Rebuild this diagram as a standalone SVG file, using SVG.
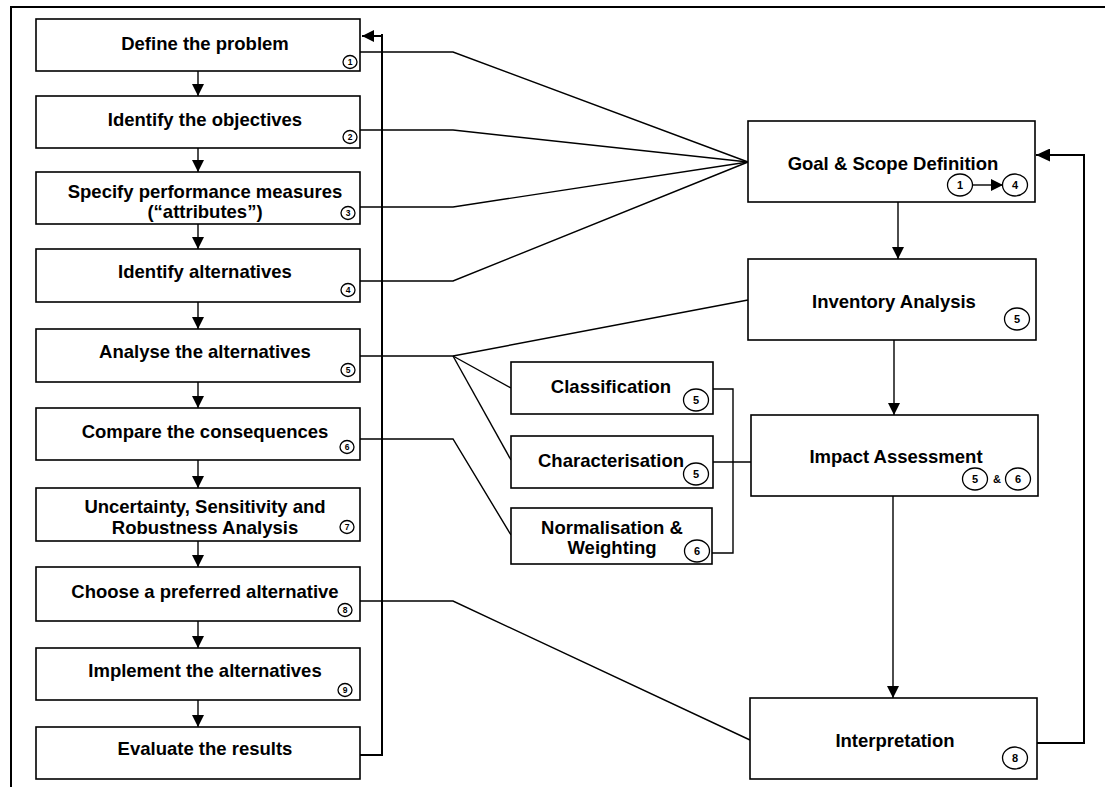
<svg xmlns="http://www.w3.org/2000/svg" width="1105" height="787" viewBox="0 0 1105 787">
  <defs>
    <style>
      .box { fill: #fff; stroke: #000; stroke-width: 1.6; }
      .lbl { font-family: "Liberation Sans", Arial, sans-serif; font-weight: bold; font-size: 18.5px; fill: #000; text-anchor: middle; }
      .num { fill: #fff; stroke: #000; stroke-width: 1.3; }
      .numS { font-family: "Liberation Sans", Arial, sans-serif; font-weight: bold; font-size: 8.5px; fill: #000; text-anchor: middle; }
      .numL { font-family: "Liberation Sans", Arial, sans-serif; font-weight: bold; font-size: 11px; fill: #000; text-anchor: middle; }
      .wire { fill: none; stroke: #000; stroke-width: 1.4; }
      .thick { fill: none; stroke: #000; stroke-width: 2; }
    </style>
    <marker id="arrow" markerUnits="userSpaceOnUse" markerWidth="12" markerHeight="12" viewBox="0 0 12 12" refX="12" refY="6" orient="auto">
      <path d="M0,0 L12,6 L0,12 Z" fill="#000"/>
    </marker>
    <marker id="arrowBig" markerUnits="userSpaceOnUse" markerWidth="14" markerHeight="13" viewBox="0 0 14 13" refX="14" refY="6.5" orient="auto">
      <path d="M0,0 L14,6.5 L0,13 Z" fill="#000"/>
    </marker>
  </defs>

  <rect x="0" y="0" width="1105" height="787" fill="#fff"/>

  <!-- outer frame (top and left edges) -->
  <path class="thick" d="M11,787 V7 H1105"/>

  <!-- connectors -->
  <g id="connectors">
    <!-- decision-analysis chain -->
    <line class="wire" x1="198" y1="71" x2="198" y2="96" marker-end="url(#arrow)"/>
    <line class="wire" x1="198" y1="148" x2="198" y2="172" marker-end="url(#arrow)"/>
    <line class="wire" x1="198" y1="224" x2="198" y2="249" marker-end="url(#arrow)"/>
    <line class="wire" x1="198" y1="302" x2="198" y2="329" marker-end="url(#arrow)"/>
    <line class="wire" x1="198" y1="382" x2="198" y2="408" marker-end="url(#arrow)"/>
    <line class="wire" x1="198" y1="460" x2="198" y2="488" marker-end="url(#arrow)"/>
    <line class="wire" x1="198" y1="541" x2="198" y2="567" marker-end="url(#arrow)"/>
    <line class="wire" x1="198" y1="621" x2="198" y2="648" marker-end="url(#arrow)"/>
    <line class="wire" x1="198" y1="700" x2="198" y2="727" marker-end="url(#arrow)"/>

    <!-- feedback loop: evaluate -> define -->
    <path class="thick" d="M360,755 H382 V34"/>
    <line class="thick" x1="382" y1="36" x2="362" y2="36" marker-end="url(#arrow)"/>

    <!-- steps 1-4 to goal & scope -->
    <polyline class="wire" points="360,52 453,52 748,162"/>
    <polyline class="wire" points="360,130 453,130 748,162"/>
    <polyline class="wire" points="360,207 453,207 748,162"/>
    <polyline class="wire" points="360,281 453,281 748,162"/>

    <!-- step 5 fan-out -->
    <polyline class="wire" points="360,356 453,356 748,300"/>
    <line class="wire" x1="453" y1="356" x2="511" y2="388"/>
    <line class="wire" x1="453" y1="356" x2="511" y2="460"/>

    <!-- step 6 to normalisation -->
    <polyline class="wire" points="360,439 453,439 511,535"/>

    <!-- step 8 to interpretation -->
    <polyline class="wire" points="360,601 453,601 750,740"/>

    <!-- impact-assessment elements -->
    <polyline class="wire" points="713,389 733,389 733,553 712,553"/>
    <line class="wire" x1="713" y1="462" x2="751" y2="462"/>

    <!-- LCA phases -->
    <line class="wire" x1="898" y1="202" x2="898" y2="259" marker-end="url(#arrow)"/>
    <line class="wire" x1="894" y1="340" x2="894" y2="415" marker-end="url(#arrow)"/>
    <line class="wire" x1="893" y1="496" x2="893" y2="698" marker-end="url(#arrow)"/>

    <!-- feedback loop: interpretation -> goal & scope -->
    <path class="thick" d="M1037,743 H1084 V155"/>
    <line class="thick" x1="1085" y1="155" x2="1036" y2="155" marker-end="url(#arrowBig)"/>
  </g>

  <!-- decision-analysis steps -->
  <g id="step1">
    <rect class="box" x="36" y="19" width="324" height="52"/>
    <text class="lbl" x="205" y="50">Define the problem</text>
    <ellipse class="num" cx="350" cy="62" rx="7" ry="6.5"/>
    <text class="numS" x="350" y="65">1</text>
  </g>
  <g id="step2">
    <rect class="box" x="36" y="96" width="324" height="52"/>
    <text class="lbl" x="205" y="126">Identify the objectives</text>
    <ellipse class="num" cx="350" cy="137" rx="7" ry="6.5"/>
    <text class="numS" x="350" y="140">2</text>
  </g>
  <g id="step3">
    <rect class="box" x="36" y="172" width="324" height="52"/>
    <text class="lbl" x="205" y="198">Specify performance measures</text>
    <text class="lbl" x="205" y="218">(“attributes”)</text>
    <ellipse class="num" cx="348" cy="213" rx="7" ry="6.5"/>
    <text class="numS" x="348" y="216">3</text>
  </g>
  <g id="step4">
    <rect class="box" x="36" y="249" width="324" height="53"/>
    <text class="lbl" x="205" y="278">Identify alternatives</text>
    <ellipse class="num" cx="348" cy="290" rx="7" ry="6.5"/>
    <text class="numS" x="348" y="293">4</text>
  </g>
  <g id="step5">
    <rect class="box" x="36" y="329" width="324" height="53"/>
    <text class="lbl" x="205" y="358">Analyse the alternatives</text>
    <ellipse class="num" cx="348" cy="370" rx="7" ry="6.5"/>
    <text class="numS" x="348" y="373">5</text>
  </g>
  <g id="step6">
    <rect class="box" x="36" y="408" width="324" height="52"/>
    <text class="lbl" x="205" y="438">Compare the consequences</text>
    <ellipse class="num" cx="347" cy="447" rx="7" ry="6.5"/>
    <text class="numS" x="347" y="450">6</text>
  </g>
  <g id="step7">
    <rect class="box" x="36" y="488" width="324" height="53"/>
    <text class="lbl" x="205" y="513">Uncertainty, Sensitivity and</text>
    <text class="lbl" x="205" y="534">Robustness Analysis</text>
    <ellipse class="num" cx="347" cy="527" rx="7" ry="6.5"/>
    <text class="numS" x="347" y="530">7</text>
  </g>
  <g id="step8">
    <rect class="box" x="36" y="567" width="324" height="54"/>
    <text class="lbl" x="205" y="598">Choose a preferred alternative</text>
    <ellipse class="num" cx="345" cy="610" rx="7" ry="6.5"/>
    <text class="numS" x="345" y="613">8</text>
  </g>
  <g id="step9">
    <rect class="box" x="36" y="648" width="324" height="52"/>
    <text class="lbl" x="205" y="677">Implement the alternatives</text>
    <ellipse class="num" cx="345" cy="690" rx="7" ry="6.5"/>
    <text class="numS" x="345" y="693">9</text>
  </g>
  <g id="step10">
    <rect class="box" x="36" y="727" width="324" height="52"/>
    <text class="lbl" x="205" y="755">Evaluate the results</text>
  </g>

  <!-- impact-assessment elements -->
  <g id="classification">
    <rect class="box" x="511" y="362" width="202" height="52"/>
    <text class="lbl" x="611" y="393">Classification</text>
    <ellipse class="num" cx="696" cy="400" rx="12.5" ry="11"/>
    <text class="numL" x="696" y="404">5</text>
  </g>
  <g id="characterisation">
    <rect class="box" x="511" y="436" width="202" height="52"/>
    <text class="lbl" x="611" y="467">Characterisation</text>
    <ellipse class="num" cx="696" cy="474" rx="12.5" ry="11"/>
    <text class="numL" x="696" y="478">5</text>
  </g>
  <g id="normalisation">
    <rect class="box" x="511" y="508" width="201" height="56"/>
    <text class="lbl" x="612" y="534">Normalisation &amp;</text>
    <text class="lbl" x="612" y="554">Weighting</text>
    <ellipse class="num" cx="697" cy="551" rx="12.5" ry="11"/>
    <text class="numL" x="697" y="555">6</text>
  </g>

  <!-- LCA phases -->
  <g id="goal-scope">
    <rect class="box" x="748" y="121" width="287" height="81"/>
    <text class="lbl" x="893" y="170">Goal &amp; Scope Definition</text>
    <ellipse class="num" cx="960" cy="185" rx="12.5" ry="11"/>
    <text class="numL" x="960" y="189">1</text>
    <line class="wire" x1="973" y1="185" x2="1003" y2="185" marker-end="url(#arrow)"/>
    <ellipse class="num" cx="1015" cy="185" rx="12.5" ry="11"/>
    <text class="numL" x="1015" y="189">4</text>
  </g>
  <g id="inventory">
    <rect class="box" x="748" y="259" width="288" height="81"/>
    <text class="lbl" x="894" y="308">Inventory Analysis</text>
    <ellipse class="num" cx="1017" cy="319" rx="12.5" ry="11"/>
    <text class="numL" x="1017" y="323">5</text>
  </g>
  <g id="impact">
    <rect class="box" x="751" y="415" width="287" height="81"/>
    <text class="lbl" x="896" y="463">Impact Assessment</text>
    <ellipse class="num" cx="975" cy="479" rx="12.5" ry="11"/>
    <text class="numL" x="975" y="483">5</text>
    <text class="numL" x="997" y="483">&amp;</text>
    <ellipse class="num" cx="1018" cy="479" rx="12.5" ry="11"/>
    <text class="numL" x="1018" y="483">6</text>
  </g>
  <g id="interpretation">
    <rect class="box" x="750" y="698" width="287" height="81"/>
    <text class="lbl" x="895" y="747">Interpretation</text>
    <ellipse class="num" cx="1015" cy="758" rx="12.5" ry="11"/>
    <text class="numL" x="1015" y="762">8</text>
  </g>
</svg>
